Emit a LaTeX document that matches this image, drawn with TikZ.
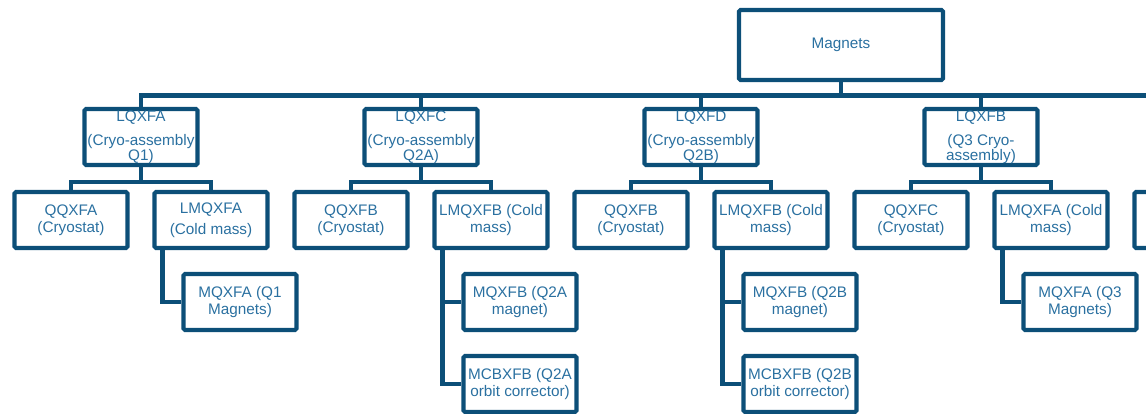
\documentclass[tikz,border=0pt]{standalone}
\usepackage{fontspec}
\setmainfont{Liberation Sans}
\usetikzlibrary{positioning}
\definecolor{linec}{HTML}{0C4F78}
\definecolor{textc}{HTML}{2A70A0}

\begin{document}
\begin{tikzpicture}[x=1pt,y=1pt,color=linec,line width=4.2pt,node distance=280pt,
    box/.style={draw=linec,rectangle,rounded corners=1.5pt,inner sep=0pt,minimum width=113pt,minimum height=56pt,align=center,text=textc,font=\fontsize{15.3}{17.5}\selectfont},
    root/.style={box,minimum width=204pt,minimum height=70pt},
    tobus/.style={to path={(\tikztostart) -- (\tikztostart |- bus) -| (\tikztotarget)}},
    tochild/.style={to path={(\tikztostart) -- ++(0,-15) -| (\tikztotarget)}},
    toleaf/.style={to path={([xshift=10pt]\tikztostart.south west) |- (\tikztotarget)}}]
                \useasboundingbox (0,0) rectangle (1146,-414);
                \clip (0,0) rectangle (1146,-414);
                \coordinate (bus) at (0,-95.5);
                \coordinate (more) at (1160,-95.5);

                \node[root] (magnets) at (841,-45) {Magnets};
                \node[box] (lqxfa) at (141,-137) {LQXFA\\[6.5pt](Cryo-assembly\\[-2.5pt]Q1)};
                \node[box] (lqxfc) [right of = lqxfa] {LQXFC\\[6.5pt](Cryo-assembly\\[-2.5pt]Q2A)};
                \node[box] (lqxfd) [right of = lqxfc] {LQXFD\\[6.5pt](Cryo-assembly\\[-2.5pt]Q2B)};
                \node[box] (lqxfb) [right of = lqxfd] {LQXFB\\[6.5pt](Q3 Cryo-\\[-2.5pt]assembly)};

                \node[box] (qqxfa) [node distance=83pt, below of = lqxfa, xshift=-70pt] {QQXFA\\(Cryostat)};
                \node[box] (lmqxfa) [node distance=83pt, below of = lqxfa, xshift=70pt] {LMQXFA\\[4pt](Cold mass)};
                \node[box] (mqxfa) [node distance=82pt, below of = lmqxfa, xshift=29pt] {MQXFA (Q1\\Magnets)};

                \node[box] (qqxfb1) [node distance=83pt, below of = lqxfc, xshift=-70pt] {QQXFB\\(Cryostat)};
                \node[box] (lmqxfb1) [node distance=83pt, below of = lqxfc, xshift=70pt] {LMQXFB (Cold\\mass)};
                \node[box] (mqxfb1) [node distance=82pt, below of = lmqxfb1, xshift=29pt] {MQXFB (Q2A\\magnet)};
                \node[box] (mcbxfb1) [node distance=82pt, below of = mqxfb1] {MCBXFB (Q2A\\orbit corrector)};

                \node[box] (qqxfb2) [node distance=83pt, below of = lqxfd, xshift=-70pt] {QQXFB\\(Cryostat)};
                \node[box] (lmqxfb2) [node distance=83pt, below of = lqxfd, xshift=70pt] {LMQXFB (Cold\\mass)};
                \node[box] (mqxfb2) [node distance=82pt, below of = lmqxfb2, xshift=29pt] {MQXFB (Q2B\\magnet)};
                \node[box] (mcbxfb2) [node distance=82pt, below of = mqxfb2] {MCBXFB (Q2B\\orbit corrector)};

                \node[box] (qqxfc) [node distance=83pt, below of = lqxfb, xshift=-70pt] {QQXFC\\(Cryostat)};
                \node[box] (lmqxfa3) [node distance=83pt, below of = lqxfb, xshift=70pt] {LMQXFA (Cold\\mass)};
                \node[box] (mqxfa3) [node distance=82pt, below of = lmqxfa3, xshift=29pt] {MQXFA (Q3\\Magnets)};
                \node[box] (next) [right of = qqxfc] {};

                \path
                (magnets.south) edge[tobus] (lqxfa.north)
                                edge[tobus] (lqxfc.north)
                                edge[tobus] (lqxfd.north)
                                edge[tobus] (lqxfb.north)
                (lqxfa.south) edge[tochild] (qqxfa.north)
                              edge[tochild] (lmqxfa.north)
                (lqxfc.south) edge[tochild] (qqxfb1.north)
                              edge[tochild] (lmqxfb1.north)
                (lqxfd.south) edge[tochild] (qqxfb2.north)
                              edge[tochild] (lmqxfb2.north)
                (lqxfb.south) edge[tochild] (qqxfc.north)
                              edge[tochild] (lmqxfa3.north)
                (lmqxfa) edge[toleaf] (mqxfa.west)
                (lmqxfb1) edge[toleaf] (mqxfb1.west)
                          edge[toleaf] (mcbxfb1.west)
                (lmqxfb2) edge[toleaf] (mqxfb2.west)
                          edge[toleaf] (mcbxfb2.west)
                (lmqxfa3) edge[toleaf] (mqxfa3.west)
                ;
                \draw (lqxfb.north |- bus) -- (more);
            \end{tikzpicture}
\end{document}
